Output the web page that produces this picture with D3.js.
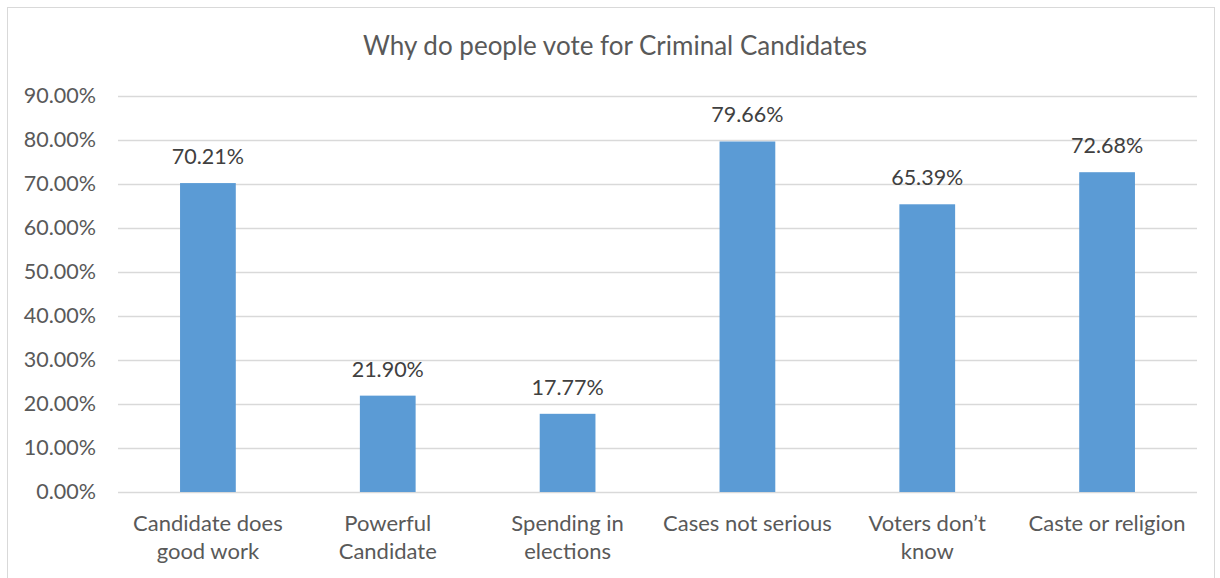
<!DOCTYPE html>
<html><head><meta charset="utf-8">
<script src="https://cdn.jsdelivr.net/npm/d3@7"></script>
<style>
html,body{margin:0;padding:0;background:#fff;}
svg{display:block;font-family:Lato,"Open Sans",sans-serif;}
</style></head>
<body>
<svg id="chart" width="1220" height="578"></svg>
<script>
const categories = [["Candidate does","good work"],["Powerful","Candidate"],["Spending in","elections"],["Cases not serious"],["Voters don\u2019t","know"],["Caste or religion"]];
const values = [70.21, 21.90, 17.77, 79.66, 65.39, 72.68];
const yTicks = [0,10,20,30,40,50,60,70,80,90];
const title = "Why do people vote for Criminal Candidates";

const svg = d3.select("#chart");
const W = 1220, H = 578;
const margin = {left:118, right:23, top:96, bottom:86};
const textColor = "#595959";

svg.append("rect").attr("x",7.5).attr("y",7.5).attr("width",1207).attr("height",H).attr("fill","#fff").attr("stroke","#d9d9d9").attr("stroke-width",1);

const x = d3.scaleBand().domain(d3.range(values.length)).range([margin.left, W-margin.right]).paddingInner(0.69).paddingOuter(0.345);
const y = d3.scaleLinear().domain([0,90]).range([H-margin.bottom, margin.top]);

svg.append("text").attr("x",615).attr("y",55).attr("text-anchor","middle").attr("fill",textColor).attr("font-size",26).text(title);

const yAxis = svg.append("g").attr("transform",`translate(${margin.left},0)`)
  .call(d3.axisLeft(y).tickValues(yTicks).tickSize(-(W-margin.left-margin.right)).tickPadding(22).tickFormat(d=>d.toFixed(2)+"%"));
yAxis.select(".domain").remove();
yAxis.selectAll(".tick line").attr("stroke","#d9d9d9").attr("stroke-width",1.5);
yAxis.selectAll(".tick text").attr("fill",textColor).attr("font-size",21.5).attr("font-family","Lato,'Open Sans',sans-serif");

svg.append("g").selectAll("rect").data(values).join("rect")
  .attr("x",(d,i)=>x(i)).attr("width",x.bandwidth())
  .attr("y",d=>y(d)).attr("height",d=>y(0)-y(d)).attr("fill","#5b9bd5");

svg.append("g").selectAll("text").data(values).join("text")
  .attr("x",(d,i)=>x(i)+x.bandwidth()/2).attr("y",d=>y(d)-19)
  .attr("text-anchor","middle").attr("fill","#404040").attr("font-size",21.5)
  .text(d=>d.toFixed(2)+"%");

const xl = svg.append("g");
categories.forEach((lines,i)=>{
  const t = xl.append("text").attr("x",x(i)+x.bandwidth()/2).attr("y",y(0)+39)
    .attr("text-anchor","middle").attr("fill",textColor).attr("font-size",22);
  lines.forEach((l,j)=>t.append("tspan").attr("x",x(i)+x.bandwidth()/2).attr("dy",j===0?0:28).text(l));
});
</script>
</body></html>
